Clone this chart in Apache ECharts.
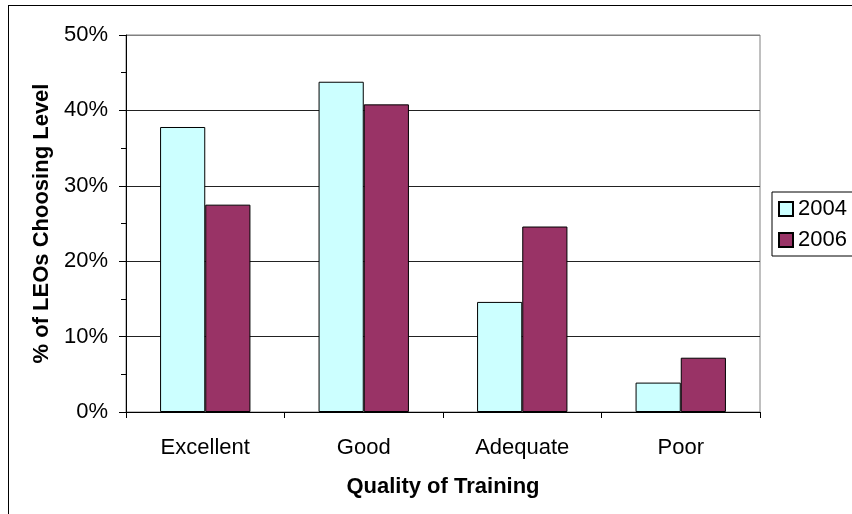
<!DOCTYPE html>
<html>
<head>
<meta charset="utf-8">
<script src="https://cdn.jsdelivr.net/npm/echarts@6/dist/echarts.min.js"></script>
<style>
html,body{margin:0;padding:0;background:#fff;overflow:hidden;}
#wrap{position:relative;width:852px;height:514px;}
#chart{position:absolute;left:0;top:0;width:852px;height:514px;}
#frame{position:absolute;left:8px;top:5px;width:900px;height:600px;border:1px solid #000;pointer-events:none;}
</style>
</head>
<body>
<div id="wrap"><div id="chart"></div><div id="frame"></div></div>
<script>
var categories = ['Excellent', 'Good', 'Adequate', 'Poor'];
var seriesNames = ['2004', '2006'];
var values2004 = [37.8, 43.8, 14.6, 3.9];
var values2006 = [27.5, 40.8, 24.6, 7.2];
var yTicks = [0, 10, 20, 30, 40, 50];

var FONT = '"Liberation Sans", Arial, sans-serif';
var chart = echarts.init(document.getElementById('chart'));
chart.setOption({
  animation: false,
  backgroundColor: 'transparent',
  textStyle: { fontFamily: FONT },
  grid: { left: 126, top: 35, width: 634, height: 377, show: true, borderColor: '#808080', borderWidth: 1, backgroundColor: 'transparent' },
  legend: {
    orient: 'vertical',
    left: 772, top: 192,
    icon: 'rect',
    itemWidth: 14, itemHeight: 14,
    itemGap: 9,
    padding: [6, 8, 5, 6],
    borderColor: '#000', borderWidth: 1,
    textStyle: { fontFamily: FONT, fontSize: 22, color: '#000' },
    data: seriesNames
  },
  xAxis: {
    type: 'category',
    data: categories,
    name: 'Quality of Training',
    nameLocation: 'middle',
    nameGap: 64,
    nameTextStyle: { fontFamily: FONT, fontSize: 22, fontWeight: 'bold', color: '#000' },
    axisLine: { lineStyle: { color: '#000', width: 1 } },
    axisTick: { show: true, length: 6, lineStyle: { color: '#000' } },
    axisLabel: { fontFamily: FONT, fontSize: 22, color: '#000', margin: 25 },
    splitLine: { show: false }
  },
  yAxis: {
    type: 'value',
    min: yTicks[0], max: yTicks[yTicks.length - 1], interval: 10,
    name: '% of LEOs Choosing Level',
    nameLocation: 'middle',
    nameGap: 72,
    nameTextStyle: { fontFamily: FONT, fontSize: 22, fontWeight: 'bold', color: '#000' },
    axisLine: { show: true, lineStyle: { color: '#000', width: 1 } },
    axisTick: { show: true, length: 7, lineStyle: { color: '#000' } },
    minorTick: { show: true, splitNumber: 2, length: 5, lineStyle: { color: '#000' } },
    axisLabel: { fontFamily: FONT, fontSize: 22, color: '#000', margin: 18, formatter: '{value}%' },
    splitLine: { show: true, lineStyle: { color: ['#000', '#222', '#222', '#222', '#222', '#808080'], width: 1 } }
  },
  series: [
    {
      name: seriesNames[0], type: 'bar', data: values2004,
      barCategoryGap: '43%', barGap: '0%',
      itemStyle: { color: '#CCFFFF', borderColor: '#000', borderWidth: 1 }
    },
    {
      name: seriesNames[1], type: 'bar', data: values2006,
      barCategoryGap: '43%', barGap: '0%',
      itemStyle: { color: '#993366', borderColor: '#000', borderWidth: 1 }
    }
  ]
});
</script>
</body>
</html>
